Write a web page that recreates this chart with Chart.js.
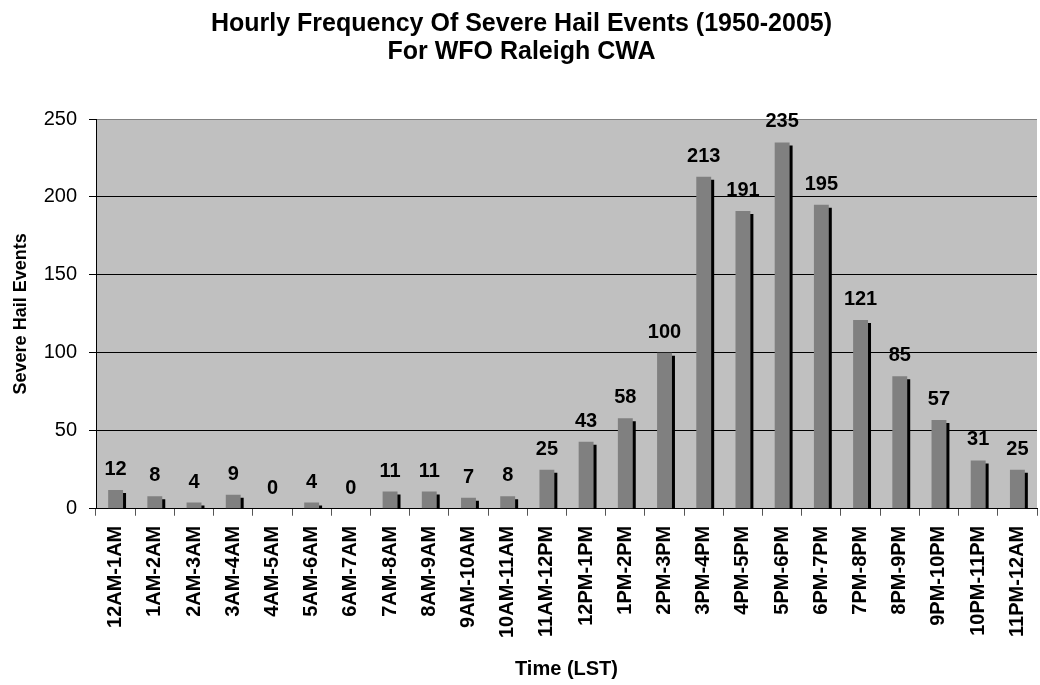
<!DOCTYPE html>
<html>
<head>
<meta charset="utf-8">
<script src="https://cdn.jsdelivr.net/npm/chart.js@4"></script>
<style>
  html, body { margin: 0; padding: 0; background: #fff; }
  #wrap { width: 1040px; height: 685px; }
</style>
</head>
<body>
<div id="wrap"><canvas id="hail-chart" width="1040" height="685"></canvas></div>
<script>
const hourLabels = [
  "12AM-1AM", "1AM-2AM", "2AM-3AM", "3AM-4AM", "4AM-5AM", "5AM-6AM",
  "6AM-7AM", "7AM-8AM", "8AM-9AM", "9AM-10AM", "10AM-11AM", "11AM-12PM",
  "12PM-1PM", "1PM-2PM", "2PM-3PM", "3PM-4PM", "4PM-5PM", "5PM-6PM",
  "6PM-7PM", "7PM-8PM", "8PM-9PM", "9PM-10PM", "10PM-11PM", "11PM-12AM"
];
const hailCounts = [12, 8, 4, 9, 0, 4, 0, 11, 11, 7, 8, 25, 43, 58, 100, 213, 191, 235, 195, 121, 85, 57, 31, 25];
const yTicks = [0, 50, 100, 150, 200, 250];

const FONT = "'Liberation Sans', Arial, sans-serif";

// gray plot area
const plotBackground = {
  id: "plotBackground",
  beforeDraw(chart) {
    const { ctx, chartArea } = chart;
    ctx.save();
    ctx.fillStyle = "#c0c0c0";
    ctx.fillRect(chartArea.left, chartArea.top, chartArea.right - chartArea.left, chartArea.bottom - chartArea.top);
    ctx.restore();
  },
};

// black drop shadow on the bars
const barShadow = {
  id: "barShadow",
  beforeDatasetDraw(chart) {
    const { ctx, chartArea } = chart;
    ctx.save();
    ctx.beginPath();
    ctx.rect(chartArea.left, chartArea.top, chartArea.right - chartArea.left, chartArea.bottom - chartArea.top);
    ctx.clip();
    ctx.shadowColor = "#000";
    ctx.shadowOffsetX = 3;
    ctx.shadowOffsetY = 3;
    ctx.shadowBlur = 0;
  },
  afterDatasetDraw(chart) {
    chart.ctx.restore();
  },
};

// value labels above each bar
const valueLabels = {
  id: "valueLabels",
  afterDatasetsDraw(chart) {
    const { ctx } = chart;
    const meta = chart.getDatasetMeta(0);
    ctx.save();
    ctx.font = "bold 20px " + FONT;
    ctx.fillStyle = "#000";
    ctx.textAlign = "center";
    ctx.textBaseline = "alphabetic";
    meta.data.forEach((bar, i) => {
      ctx.fillText(String(hailCounts[i]), bar.x, bar.y - 15);
    });
    ctx.restore();
  },
};

const ctx = document.getElementById("hail-chart").getContext("2d");
new Chart(ctx, {
  type: "bar",
  data: {
    labels: hourLabels,
    datasets: [
      {
        label: "Severe Hail Events",
        data: hailCounts,
        backgroundColor: "#808080",
        borderWidth: 0,
        categoryPercentage: 1,
        barPercentage: 0.38,
      },
    ],
  },
  options: {
    responsive: false,
    animation: false,
    layout: { padding: { top: 0, right: 3, bottom: 0, left: 6 } },
    plugins: {
      legend: { display: false },
      tooltip: { enabled: false },
      title: {
        display: true,
        text: ["Hourly Frequency Of Severe Hail Events (1950-2005)", "For WFO Raleigh CWA"],
        color: "#000",
        font: { family: FONT, size: 25, weight: "bold", lineHeight: 1.12 },
        padding: { top: 10, bottom: 53 },
      },
    },
    scales: {
      y: {
        min: 0,
        max: 250,
        afterBuildTicks(axis) {
          axis.ticks = yTicks.map((v) => ({ value: v }));
        },
        ticks: {
          color: "#000",
          font: { family: FONT, size: 20 },
          padding: 12,
        },
        grid: {
          color: (c) => (c.tick && c.tick.value === 250 ? "#808080" : "#000"),
          lineWidth: 1,
          tickLength: 7,
          tickColor: "#000",
        },
        border: { color: "#000", width: 1 },
        title: {
          display: true,
          text: "Severe Hail Events",
          color: "#000",
          font: { family: FONT, size: 18, weight: "bold" },
          padding: { bottom: 6 },
        },
        afterFit(axis) {
          axis.width = 90;
        },
      },
      x: {
        grid: {
          offset: true,
          drawOnChartArea: false,
          tickLength: 7,
          tickColor: "#555",
        },
        border: { color: "#000", width: 1 },
        ticks: {
          color: "#000",
          font: { family: FONT, size: 20, weight: "bold" },
          minRotation: 90,
          maxRotation: 90,
          autoSkip: false,
          padding: 10,
        },
        title: {
          display: true,
          text: "Time (LST)",
          color: "#000",
          font: { family: FONT, size: 20, weight: "bold" },
          padding: { top: 9 },
        },
        afterFit(axis) {
          axis.paddingLeft = 0;
          axis.paddingRight = 0;
        },
      },
    },
  },
  plugins: [plotBackground, barShadow, valueLabels],
});
</script>
</body>
</html>
